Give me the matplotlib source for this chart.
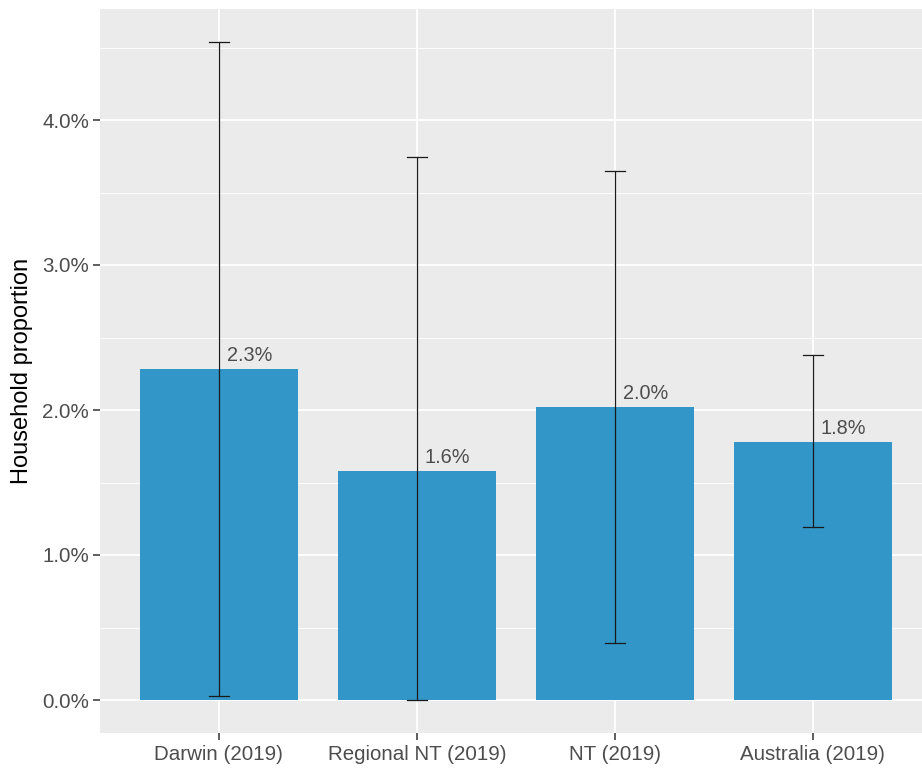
import matplotlib
matplotlib.use("Agg")
import matplotlib.pyplot as plt
import numpy as np
from matplotlib.ticker import FixedLocator, FuncFormatter

plt.rcParams['font.family'] = ['Liberation Sans', 'DejaVu Sans']

categories = ["Darwin (2019)", "Regional NT (2019)", "NT (2019)", "Australia (2019)"]
proportion = [2.28, 1.58, 2.02, 1.78]
lower_ci = [0.03, 0.0, 0.39, 1.19]
upper_ci = [4.54, 3.745, 3.65, 2.38]
value_labels = ["2.3%", "1.6%", "2.0%", "1.8%"]

W, H = 922, 772
fig = plt.figure(figsize=(W / 100, H / 100), dpi=100)
ax = fig.add_axes([100 / W, 1 - 733 / H, 822 / W, 724 / H])

panel_bg = "#EBEBEB"
ax.set_facecolor(panel_bg)
for s in ax.spines.values():
    s.set_visible(False)

x = np.arange(1, len(categories) + 1)

# grid
for v in np.arange(0.5, 5.0, 1.0):
    ax.axhline(v, color="white", lw=0.6, zorder=0.5)
for v in range(0, 5):
    ax.axhline(v, color="white", lw=1.3, zorder=0.6)
for xi in x:
    ax.axvline(xi, color="white", lw=1.3, zorder=0.6)

ax.bar(x, proportion, width=0.8, color="#3296C8", zorder=2)

# error bars
cap = 0.05
for xi, lo, hi in zip(x, lower_ci, upper_ci):
    ax.plot([xi, xi], [lo, hi], color="#1A1A1A", lw=0.9, zorder=3)
    ax.plot([xi - cap, xi + cap], [lo, lo], color="#1A1A1A", lw=0.9, zorder=3)
    ax.plot([xi - cap, xi + cap], [hi, hi], color="#1A1A1A", lw=0.9, zorder=3)

for xi, v, lab in zip(x, proportion, value_labels):
    ax.annotate(lab, (xi + 0.155, v), xytext=(0, 3), textcoords="offset points",
                ha="center", va="bottom", fontsize=14.3, color="#4D4D4D", zorder=4)

ax.set_xlim(0.4, 0.4 + 822 / 198)
ax.set_ylim(-33 / 145, 691 / 145)

ax.set_xticks(x)
ax.set_xticklabels(categories)
ax.yaxis.set_major_locator(FixedLocator([0, 1, 2, 3, 4]))
ax.yaxis.set_major_formatter(FuncFormatter(lambda v, p: f"{v:.1f}%"))
ax.tick_params(axis="both", length=5, width=1.1, color="#333333",
               labelsize=14.8, labelcolor="#4D4D4D", pad=3)
ax.tick_params(axis="x", pad=4)

ax.set_ylabel("Household proportion", fontsize=17, color="black")
ax.yaxis.set_label_coords(-67 / 822, 0.5)

fig.savefig("out.png", dpi=100, facecolor="white")
